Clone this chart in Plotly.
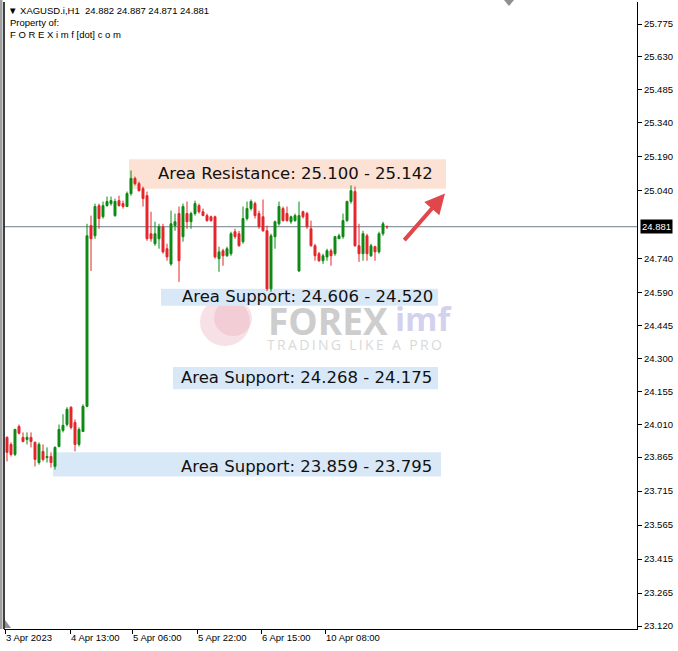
import plotly.graph_objects as go

# ---------------- data ----------------
opens = [23.952, 23.921, 23.877, 24.000, 23.952, 23.943, 23.952, 23.930, 23.841, 23.890,
         23.863, 23.868, 23.824, 23.912, 23.983, 24.009, 24.085, 24.018, 23.921, 23.978,
         24.089, 24.886, 24.841, 24.974, 24.925, 24.974, 24.983, 24.930, 24.996, 24.983,
         24.970, 25.027, 25.094, 25.071, 25.049, 25.018, 24.850, 24.806, 24.828, 24.881,
         24.784, 24.717, 24.886, 24.939, 24.837, 24.939, 24.903, 24.939, 24.974, 24.947,
         24.930, 24.925, 24.925, 24.740, 24.775, 24.753, 24.762, 24.859, 24.850, 24.815,
         24.917, 24.961, 24.983, 24.939, 24.925, 24.863, 24.607, 24.837, 24.894, 24.961,
         24.939, 24.903, 24.908, 24.686, 24.947, 24.939, 24.872, 24.797, 24.762, 24.731,
         24.748, 24.775, 24.762, 24.828, 24.837, 24.908, 24.992, 25.036, 24.797, 24.762,
         24.841, 24.753, 24.793, 24.770, 24.850, 24.882]
highs = [23.957, 23.930, 23.990, 24.009, 23.974, 23.974, 23.974, 23.934, 23.930, 23.921,
         23.908, 23.886, 23.912, 24.009, 24.054, 24.085, 24.089, 24.031, 23.996, 24.098,
         24.894, 24.930, 24.983, 24.983, 24.992, 25.014, 25.014, 25.005, 25.018, 24.996,
         25.036, 25.129, 25.102, 25.080, 25.058, 25.036, 24.947, 24.903, 24.894, 24.894,
         24.806, 24.952, 24.939, 24.970, 24.983, 24.992, 24.947, 24.996, 24.983, 24.961,
         24.939, 24.930, 24.930, 24.793, 24.784, 24.793, 24.859, 24.872, 24.863, 24.970,
         24.992, 25.001, 24.992, 24.952, 25.001, 24.886, 24.850, 24.908, 24.992, 24.970,
         24.970, 24.930, 24.939, 24.992, 24.952, 24.947, 24.908, 24.806, 24.770, 24.762,
         24.784, 24.784, 24.841, 24.850, 24.939, 24.996, 25.063, 25.058, 24.894, 24.863,
         24.850, 24.806, 24.797, 24.859, 24.903, 24.887]
lows = [23.846, 23.868, 23.870, 23.965, 23.930, 23.921, 23.908, 23.824, 23.832, 23.846,
        23.841, 23.819, 23.810, 23.908, 23.974, 24.000, 23.987, 23.890, 23.912, 23.978,
        24.085, 24.686, 24.828, 24.872, 24.917, 24.970, 24.974, 24.925, 24.970, 24.961,
        24.970, 25.018, 25.063, 25.036, 24.970, 24.819, 24.815, 24.797, 24.784, 24.762,
        24.731, 24.709, 24.863, 24.638, 24.815, 24.872, 24.872, 24.930, 24.939, 24.930,
        24.903, 24.903, 24.740, 24.682, 24.709, 24.748, 24.753, 24.828, 24.793, 24.806,
        24.908, 24.952, 24.917, 24.872, 24.859, 24.598, 24.594, 24.784, 24.886, 24.903,
        24.903, 24.894, 24.903, 24.682, 24.917, 24.872, 24.793, 24.731, 24.726, 24.717,
        24.731, 24.709, 24.753, 24.828, 24.828, 24.903, 24.983, 24.793, 24.726, 24.731,
        24.731, 24.748, 24.731, 24.762, 24.841, 24.871]
closes = [23.886, 23.877, 23.987, 23.970, 23.934, 23.952, 23.934, 23.855, 23.921, 23.855,
          23.868, 23.841, 23.908, 23.987, 24.005, 24.076, 23.996, 23.921, 23.987, 24.089,
          24.841, 24.828, 24.970, 24.917, 24.974, 24.992, 24.996, 24.992, 24.974, 24.970,
          25.027, 25.094, 25.071, 25.040, 25.005, 24.828, 24.828, 24.850, 24.881, 24.770,
          24.748, 24.894, 24.903, 24.731, 24.970, 24.903, 24.939, 24.983, 24.947, 24.930,
          24.908, 24.908, 24.748, 24.770, 24.753, 24.784, 24.850, 24.837, 24.797, 24.917,
          24.961, 24.992, 24.930, 24.881, 24.863, 24.607, 24.841, 24.903, 24.970, 24.908,
          24.908, 24.925, 24.930, 24.930, 24.925, 24.881, 24.797, 24.753, 24.731, 24.753,
          24.775, 24.753, 24.837, 24.841, 24.908, 24.992, 25.040, 24.797, 24.762, 24.850,
          24.762, 24.797, 24.770, 24.850, 24.894, 24.881]
bars = list(range(len(opens)))

time_tick_pos = [-0.5, 15.75, 31.25, 47.5, 63.5, 79.5]
time_tick_text = ["3 Apr 2023", "4 Apr 13:00", "5 Apr 06:00", "5 Apr 22:00", "6 Apr 15:00", "10 Apr 08:00"]

price_ticks = [25.775, 25.630, 25.485, 25.340, 25.190, 25.040, 24.740, 24.590, 24.445,
               24.300, 24.155, 24.010, 23.865, 23.715, 23.565, 23.415, 23.265, 23.120]
last_price = 24.881
header_values = "24.882 24.887 24.871 24.881"

zone_labels = ["Area Resistance: 25.100 - 25.142", "Area Support: 24.606 - 24.520",
               "Area Support: 24.268 - 24.175", "Area Support: 23.859 - 23.795"]
zone_top = [25.178, 24.607, 24.262, 23.886]
zone_bottom = [25.049, 24.532, 24.164, 23.779]
zone_start = [30.5, 38.5, 41.5, 11.5]
zone_end = [109.75, 107.75, 107.75, 108.5]
zone_kind = ["res", "sup", "sup", "sup"]
label_bar = [72.1, 75.1, 74.75, 74.8]
label_price = [25.116, 24.572, 24.218, 23.823]

# ---------------- layout geometry ----------------
W, H = 678, 651
ML, MR, MT, MB = 4, 41, 2, 22
PW, PH = W - ML - MR, H - MT - MB


def px(x):
    return (x - ML) / PW


def py(y):
    return 1 - (y - MT) / PH


GREEN = "#0c8a12"
RED = "#e3262b"
FONT = "Liberation Sans"

fig = go.Figure()

shapes = []
for k in range(len(zone_labels)):
    shapes.append(dict(type="rect", xref="x", yref="y", x0=zone_start[k], x1=zone_end[k],
                       y0=zone_bottom[k], y1=zone_top[k], line=dict(width=0),
                       fillcolor="#fbe2d4" if zone_kind[k] == "res" else "#d9e8f7",
                       layer="below"))
# watermark logo (two overlapping discs)
shapes.append(dict(type="circle", xref="paper", yref="paper", x0=px(200), x1=px(250),
                   y0=py(346), y1=py(298), line=dict(width=0),
                   fillcolor="rgba(238,180,192,0.40)", layer="below"))
shapes.append(dict(type="circle", xref="paper", yref="paper", x0=px(214), x1=px(252),
                   y0=py(336), y1=py(300), line=dict(width=0),
                   fillcolor="rgba(230,160,176,0.30)", layer="below"))
# last price line
shapes.append(dict(type="line", xref="paper", yref="y", x0=0, x1=1, y0=last_price, y1=last_price,
                   line=dict(color="#6f7f8f", width=1), layer="below"))
# frame
shapes.append(dict(type="line", xref="paper", yref="paper", x0=0, x1=0, y0=0, y1=1,
                   line=dict(color="black", width=1.5)))
shapes.append(dict(type="rect", xref="paper", yref="paper", x0=px(0), x1=px(2.5), y0=0, y1=py(0),
                   line=dict(width=0), fillcolor="#a0a0a0"))
# MT4 shift markers
shapes.append(dict(type="path", xref="paper", yref="paper",
                   path=f"M {px(504)} {py(0)} L {px(514)} {py(0)} L {px(509)} {py(6)} Z",
                   fillcolor="#909090", line=dict(width=0)))
shapes.append(dict(type="path", xref="paper", yref="paper",
                   path=f"M {px(5)} {py(620)} L {px(5)} {py(628)} L {px(11)} {py(628)} Z",
                   fillcolor="#909090", line=dict(width=0)))

fig.add_trace(go.Candlestick(
    x=bars, open=opens, high=highs, low=lows, close=closes,
    increasing=dict(line=dict(color=GREEN, width=1), fillcolor=GREEN),
    decreasing=dict(line=dict(color=RED, width=1), fillcolor=RED),
    whiskerwidth=0, showlegend=False, hoverinfo="skip"))

annotations = []
annotations.append(dict(xref="paper", yref="paper", x=px(328), y=py(320), text="<b>FOREX</b>",
                        showarrow=False, font=dict(family="Open Sans", size=37, color="#cdcdcd"),
                        xanchor="center", yanchor="middle"))
annotations.append(dict(xref="paper", yref="paper", x=px(423), y=py(318), text="<b>imf</b>",
                        showarrow=False, font=dict(family="Open Sans", size=33, color="#d3d1ee"),
                        xanchor="center", yanchor="middle"))
annotations.append(dict(xref="paper", yref="paper", x=px(354), y=py(344),
                        text="\u2009".join("TRADING LIKE A PRO"),
                        showarrow=False, font=dict(family="Open Sans", size=14, color="#d9d9d9"),
                        xanchor="center", yanchor="middle"))
for k in range(len(zone_labels)):
    annotations.append(dict(xref="x", yref="y", x=label_bar[k], y=label_price[k], text=zone_labels[k],
                            showarrow=False, font=dict(family="DejaVu Sans", size=16.5, color="#111111"),
                            xanchor="center", yanchor="middle"))
annotations.append(dict(xref="x", yref="y", x=109.5, y=25.027, ax=-42, ay=48, text="",
                        showarrow=True, arrowhead=2, arrowsize=1.0, arrowwidth=4,
                        arrowcolor="#e0474c"))
annotations.append(dict(xref="paper", yref="paper", x=px(6), y=py(10),
                        text="\u25bc XAGUSD.i,H1  " + header_values, showarrow=False,
                        font=dict(family=FONT, size=9.5, color="black"),
                        xanchor="left", yanchor="middle"))
annotations.append(dict(xref="paper", yref="paper", x=px(8), y=py(22), text="Property of:",
                        showarrow=False, font=dict(family=FONT, size=9.5, color="black"),
                        xanchor="left", yanchor="middle"))
annotations.append(dict(xref="paper", yref="paper", x=px(8), y=py(35),
                        text="F O R E X i m f [dot] c o m", showarrow=False,
                        font=dict(family=FONT, size=9.5, color="black"),
                        xanchor="left", yanchor="middle"))
annotations.append(dict(xref="paper", yref="y", x=1, y=last_price, xshift=3, text=f"{last_price:.3f}",
                        showarrow=False, font=dict(family=FONT, size=9.5, color="white"),
                        bgcolor="black", borderpad=1, xanchor="left", yanchor="middle"))

fig.update_layout(
    width=W, height=H,
    margin=dict(l=ML, r=MR, t=MT, b=MB),
    paper_bgcolor="white", plot_bgcolor="white",
    shapes=shapes, annotations=annotations,
    xaxis=dict(range=[-0.75, 157.5], rangeslider=dict(visible=False), showgrid=False, zeroline=False,
               tickvals=time_tick_pos, ticktext=time_tick_text, ticks="outside", ticklen=4,
               tickcolor="black", showline=True, linecolor="black", linewidth=1,
               ticklabelposition="outside right",
               tickfont=dict(family=FONT, size=9.5, color="black")),
    yaxis=dict(range=[23.107, 25.872], side="right", showgrid=False, zeroline=False,
               tickvals=price_ticks, ticktext=[f"{v:.3f}" for v in price_ticks],
               ticks="outside", ticklen=4, tickcolor="black", showline=True, linecolor="black",
               linewidth=1, tickfont=dict(family=FONT, size=9.5, color="black")),
)

fig.write_html("out.html", config={"displayModeBar": False},
               post_script="document.body.style.margin='0';document.body.style.overflow='hidden';")
